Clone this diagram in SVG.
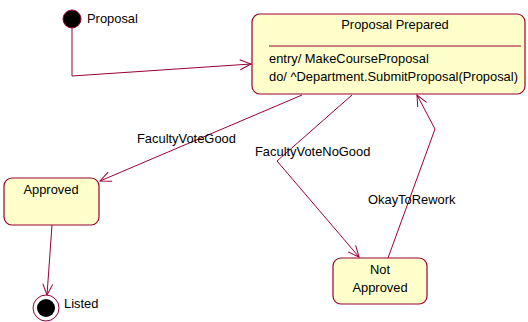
<svg xmlns="http://www.w3.org/2000/svg" width="528" height="322" viewBox="0 0 528 322">
<defs>
<marker id="open" markerWidth="14" markerHeight="14" refX="12" refY="7" orient="auto" markerUnits="userSpaceOnUse">
<path d="M1,2 L12,7 L1,12" fill="none" stroke="#990033" stroke-width="1"/>
</marker>
</defs>
<style>
.st{fill:#FFFFCC;stroke:#990033;stroke-width:1.2}
.ln{fill:none;stroke:#990033;stroke-width:1}
.t{font-family:"Liberation Sans",Arial,sans-serif;font-size:12.9px;fill:#000}
.c{text-anchor:middle}
</style>
<rect width="528" height="322" fill="#fff"/>
<g id="connectors">
<polyline class="ln" points="72,28 72,76 251,64" marker-end="url(#open)"/>
<line class="ln" x1="302" y1="95" x2="100" y2="181" marker-end="url(#open)"/>
<polyline class="ln" points="352,95 277,161 359,257" marker-end="url(#open)"/>
<polyline class="ln" points="388,258 435,129 417,95" marker-end="url(#open)"/>
<line class="ln" x1="52" y1="225" x2="47" y2="295" marker-end="url(#open)"/>
<text class="t" x="137" y="143">FacultyVoteGood</text>
<text class="t" x="255" y="156">FacultyVoteNoGood</text>
<text class="t" x="368" y="204">OkayToRework</text>
</g>
<g id="initial">
<circle cx="72" cy="19" r="9" fill="#000" stroke="#990033" stroke-width="1"/>
<text class="t" x="87" y="23">Proposal</text>
</g>
<g id="proposal-prepared">
<rect class="st" x="252" y="14" width="273" height="80" rx="8"/>
<text class="t c" x="395" y="29">Proposal Prepared</text>
<line x1="269" y1="46" x2="521" y2="46" stroke="#990033" stroke-width="1"/>
<text class="t" x="269" y="63">entry/ MakeCourseProposal</text>
<text class="t" x="269" y="81">do/ ^Department.SubmitProposal(Proposal)</text>
</g>
<g id="approved">
<rect class="st" x="4" y="178" width="95" height="47" rx="8"/>
<text class="t c" x="51" y="194">Approved</text>
</g>
<g id="not-approved">
<rect class="st" x="333" y="258" width="94" height="46" rx="8"/>
<text class="t c" x="380" y="274">Not</text>
<text class="t c" x="380" y="292">Approved</text>
</g>
<g id="final">
<circle cx="46" cy="308" r="13" fill="#fff" stroke="#990033" stroke-width="1"/>
<circle cx="46" cy="308" r="9" fill="#000"/>
<text class="t" x="64" y="308">Listed</text>
</g>
</svg>
